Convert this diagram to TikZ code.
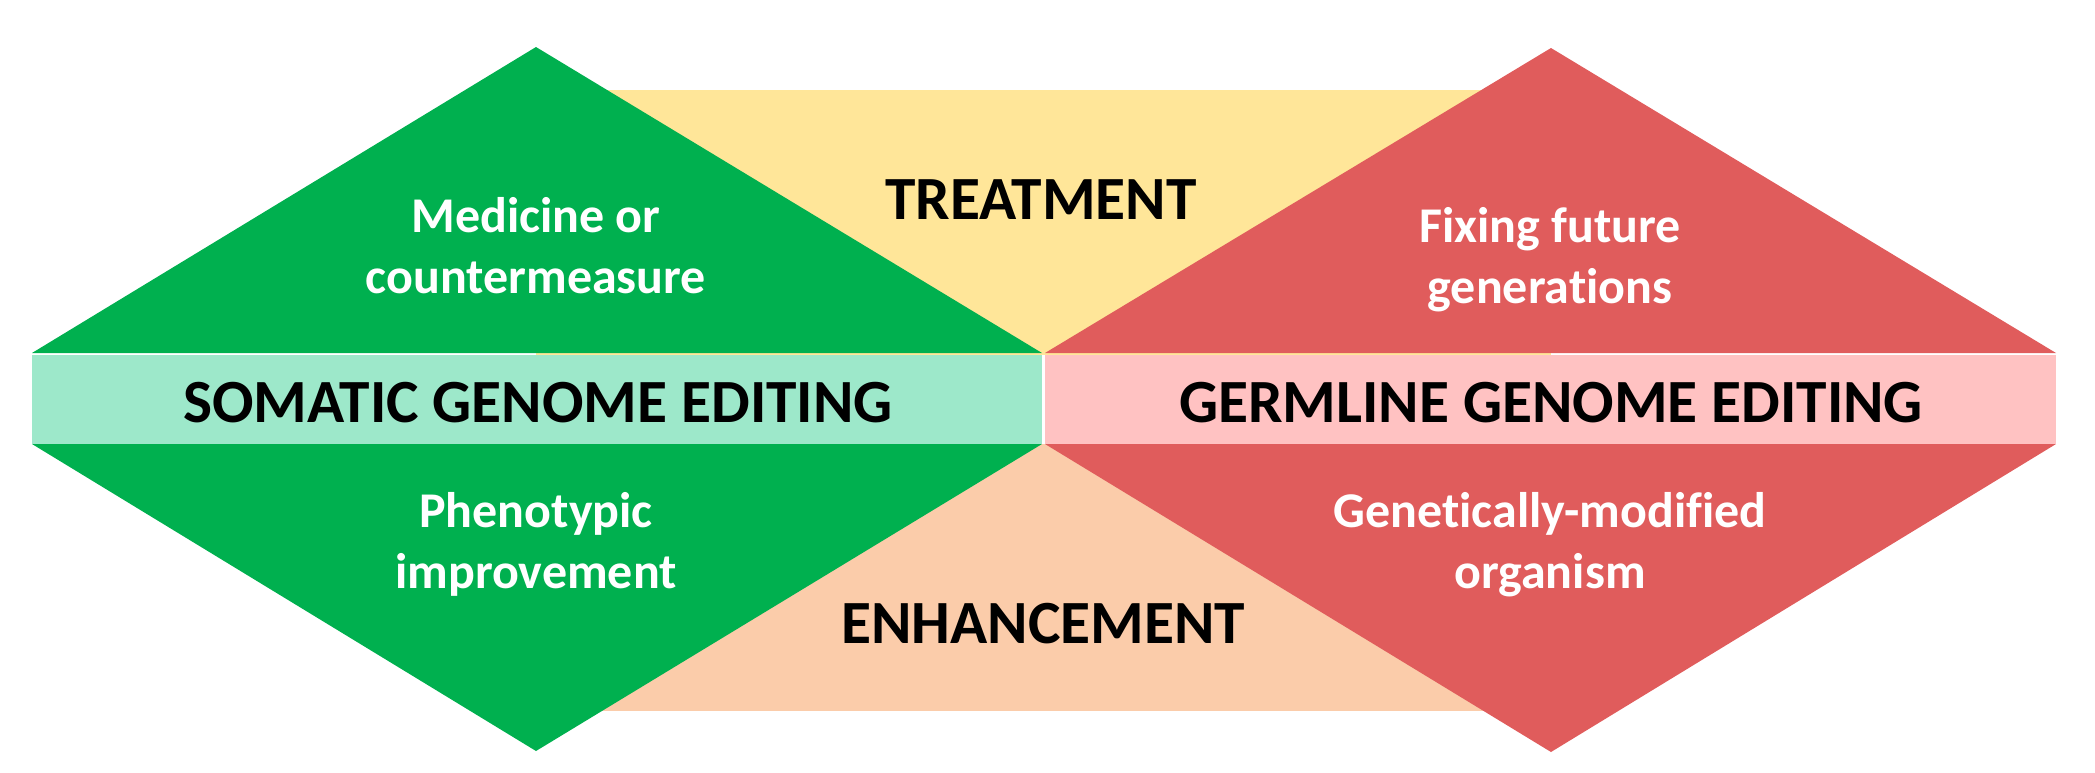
\documentclass[tikz,border=0pt]{standalone}
\usepackage{fontspec}
\setmainfont{Carlito}[Ligatures=NoCommon]
\definecolor{cgreen}{HTML}{00B04F}
\definecolor{cband}{HTML}{9DE8CA}
\definecolor{cred}{HTML}{E05C5C}
\definecolor{cpink}{HTML}{FFC2C2}
\definecolor{cyellow}{HTML}{FFE699}
\definecolor{cpeach}{HTML}{FBCCAA}
\begin{document}
\begin{tikzpicture}[x=0.5pt,y=-0.5pt,
  big/.style={inner sep=0pt,anchor=base,font=\bfseries\fontsize{30.7}{34}\selectfont,text=black},
  small/.style={inner sep=0pt,anchor=base,align=center,font=\bfseries\fontsize{25}{30.5}\selectfont,text=white}]
\useasboundingbox (0,0) rectangle (2095,772);
% background rectangles
\fill[cyellow] (536,90) rectangle (1551,355);
\fill[cpeach] (536,444) rectangle (1551,711);
% somatic
\fill[cgreen] (32,353) -- (536,47) -- (1042,353) -- cycle;
\fill[cgreen] (32,444) -- (536,751) -- (1042,444) -- cycle;
\fill[cband] (32,355) rectangle (1042,444);
% germline
\fill[cred] (1045,353) -- (1551,48) -- (2056,353) -- cycle;
\fill[cred] (1045,444) -- (1551,752) -- (2056,444) -- cycle;
\fill[cpink] (1045,355) rectangle (2056,444);
% texts
\node[big] (treat) at (1041,219) {TREATMENT};
\node[big] (enh) at (1043,643) {ENHANCEMENT};
\node[big] (som) at (538,422) {SOMATIC GENOME EDITING};
\node[big] (germ) at (1551,422) {GERMLINE GENOME EDITING};
\node[small] (med) at (536,293) {Medicine or\\countermeasure};
\node[small] (phen) at (536,588) {Phenotypic\\improvement};
\node[small] (fix) at (1550,303) {Fixing future\\generations};
\node[small] (gmo) at (1550,588) {Genetically-modified\\organism};
\end{tikzpicture}
\end{document}
